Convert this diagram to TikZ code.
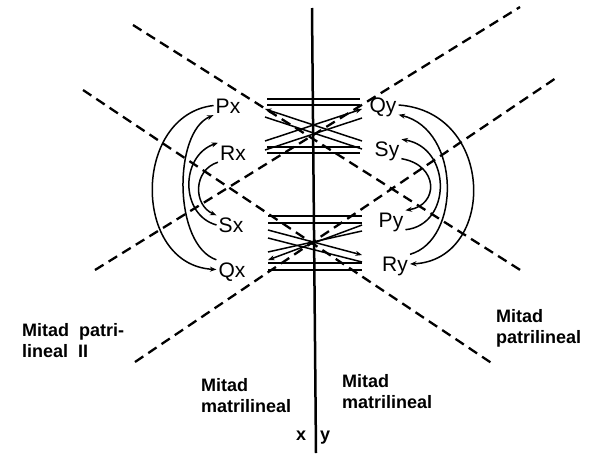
\documentclass[tikz,border=0pt]{standalone}
\usepackage{fontspec}
\setmainfont{Liberation Sans}
\usetikzlibrary{arrows.meta}
\begin{document}
\begin{tikzpicture}[
    x=1pt, y=-1pt,
    >={Stealth[length=6.5pt, width=5pt]},
    letter/.style={inner sep=2pt, text height=15pt, text depth=0pt, font=\fontsize{21}{21}\selectfont},
    half/.style={align=left, anchor=west, inner sep=0pt, font=\bfseries\fontsize{18}{21}\selectfont},
    moiety/.style={dash pattern=on 10pt off 6pt, line width=2.3pt},
    link/.style={line width=1.5pt},
    turn/.style={->, line width=1.5pt}
]
\useasboundingbox (0,0) rectangle (595,453);

% dashed moiety borders
\draw[moiety] (133,25) -- (525,273);
\draw[moiety] (83,90) -- (493,364);
\draw[moiety] (95,270) -- (520,7);
\draw[moiety] (135,362) -- (556,78);

% axis between x and y
\draw[line width=2.5pt] (312,8) -- (316,453);

% classes
\node[letter] (px) at (228,105.5) {Px};
\node[letter] (rx) at (233,152.5) {Rx};
\node[letter] (sx) at (231,225) {Sx};
\node[letter] (qx) at (232,269.5) {Qx};
\node[letter] (qy) at (383,105) {Qy};
\node[letter] (sy) at (387,149) {Sy};
\node[letter] (py) at (391,220) {Py};
\node[letter] (ry) at (395,264) {Ry};

% upper crossing
\foreach \y in {99,105,147,153}
    \draw[link] (267,\y) -- (360,\y);
\draw[link, <-] (265,109) -- (362,141);
\draw[link] (265,117) -- (362,149);
\draw[link, ->] (265,141) -- (362,109);
\draw[link] (265,150) -- (362,118);

% lower crossing
\foreach \y in {216,223,263,270}
    \draw[link] (268,\y) -- (362,\y);
\draw[link, ->] (268,230) -- (362,255);
\draw[link] (268,238) -- (362,262);
\draw[link, <-] (268,260) -- (362,225);
\draw[link] (268,252) -- (362,231);

% cycles on the x side
\draw[turn] (px.west) .. controls (132,115) and (132,265) .. (qx.west);
\draw[turn] (qx.north west) .. controls (173,245) and (173,132) .. (px.south west);
\draw[turn] (sx.west) .. controls (180,215) and (180,156) .. (rx.north west);
\draw[turn] (rx.south west) .. controls (193,170) and (193,205) .. (sx.north west);

% cycles on the y side
\draw[turn] (qy.east) .. controls (496,112) and (496,260) .. (ry.east);
\draw[turn] (ry.north east) .. controls (461,240) and (461,130) .. (qy.south east);
\draw[turn] (py.south east) .. controls (452,225) and (452,148) .. (sy.north east);
\draw[turn] (sy.south east) .. controls (439,165) and (439,205) .. (py.north east);

% labels
\node[half] (patriII) at (22,341) {Mitad\ \ patri-\\lineal\ \ II};
\node[half] (patri) at (496,328) {Mitad\\patrilineal};
\node[half] (matrix) at (201,396) {Mitad\\matrilineal};
\node[half] (matriy) at (342,392) {Mitad\\matrilineal};
\node[half] (xlab) at (296,436) {x};
\node[half] (ylab) at (320,438) {y};

\end{tikzpicture}
\end{document}
